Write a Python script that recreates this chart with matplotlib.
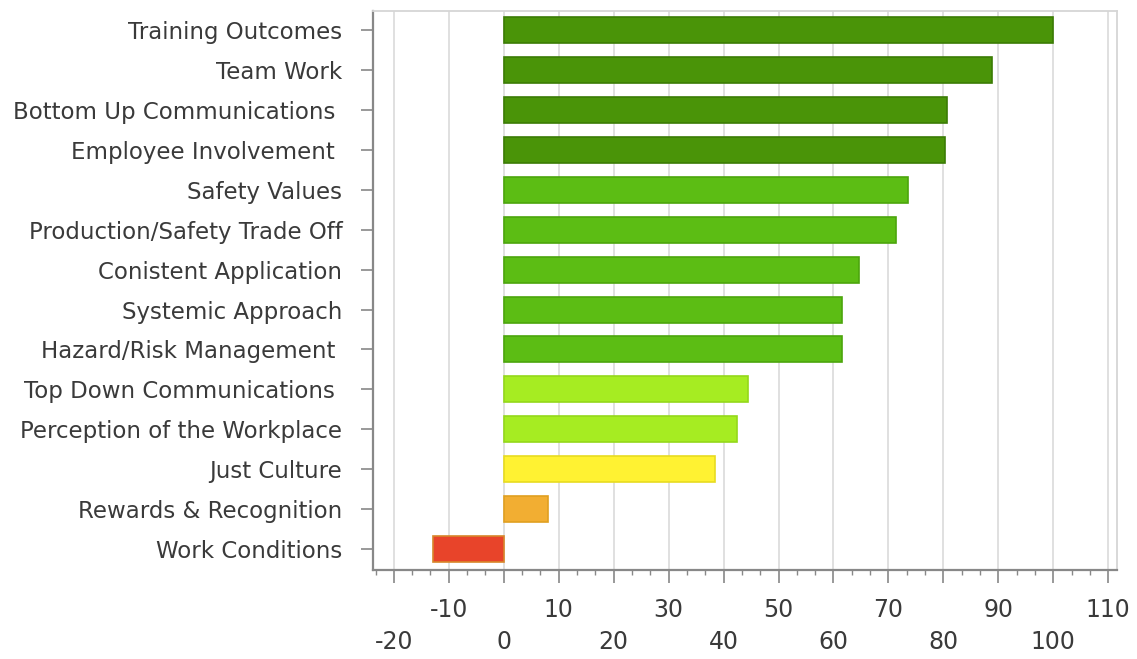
import matplotlib
matplotlib.use("Agg")
import matplotlib.pyplot as plt
from matplotlib.ticker import MultipleLocator

# categories, top to bottom
categories = ["Training Outcomes", "Team Work", "Bottom Up Communications ",
              "Employee Involvement ", "Safety Values", "Production/Safety Trade Off",
              "Conistent Application", "Systemic Approach", "Hazard/Risk Management ",
              "Top Down Communications ", "Perception of the Workplace", "Just Culture",
              "Rewards & Recognition", "Work Conditions"]
scores = [100, 88.8, 80.7, 80.3, 73.6, 71.4, 64.7, 61.6, 61.6, 44.4, 42.5, 38.5, 8.0, -12.9]
fills = ["#4a9408", "#4a9408", "#4a9408", "#4a9408",
         "#5cbd14", "#5cbd14", "#5cbd14", "#5cbd14", "#5cbd14",
         "#a6ec22", "#a6ec22", "#fff232", "#f2ae32", "#e8442a"]
edges = ["#3b7c04", "#3b7c04", "#3b7c04", "#3b7c04",
         "#4ca60c", "#4ca60c", "#4ca60c", "#4ca60c", "#4ca60c",
         "#94d81a", "#94d81a", "#e8dc20", "#e0a020", "#d8862a"]
tick_vals = list(range(-20, 111, 10))

fig = plt.figure(figsize=(11.37, 6.59), dpi=100)
ax = fig.add_axes([0.328, 0.135, 0.654, 0.848])

ypos = list(range(len(categories)))[::-1]
ax.barh(ypos, scores, height=0.65, color=fills, edgecolor=edges, linewidth=1.2, zorder=3)

ax.set_xlim(-23.8, 111.5)
ax.set_ylim(-0.53, 13.48)

ax.set_yticks(ypos)
ax.set_yticklabels(categories, fontsize=16.5, color="#3a3a3a")

ax.set_xticks(tick_vals)
xlabels = [str(v) if (v // 10) % 2 else "\n" + str(v) for v in tick_vals]
ax.set_xticklabels(xlabels, fontsize=17, color="#3a3a3a")
for lbl in ax.get_xticklabels():
    lbl.set_linespacing(1.45)
ax.xaxis.set_minor_locator(MultipleLocator(10 / 3))

ax.tick_params(axis="x", which="major", length=9, width=1.2, color="#888888", pad=11)
ax.tick_params(axis="x", which="minor", length=3.5, width=1.0, color="#888888")
ax.tick_params(axis="y", length=9, width=1.2, color="#888888", pad=13)

ax.grid(axis="x", color="#dddddd", linewidth=1.3, zorder=0)
ax.set_axisbelow(True)

for s in ["left", "bottom"]:
    ax.spines[s].set_color("#888888")
    ax.spines[s].set_linewidth(1.6)
for s in ["top", "right"]:
    ax.spines[s].set_color("#d6d6d6")
    ax.spines[s].set_linewidth(1.3)

fig.savefig("out.png", dpi=100)
